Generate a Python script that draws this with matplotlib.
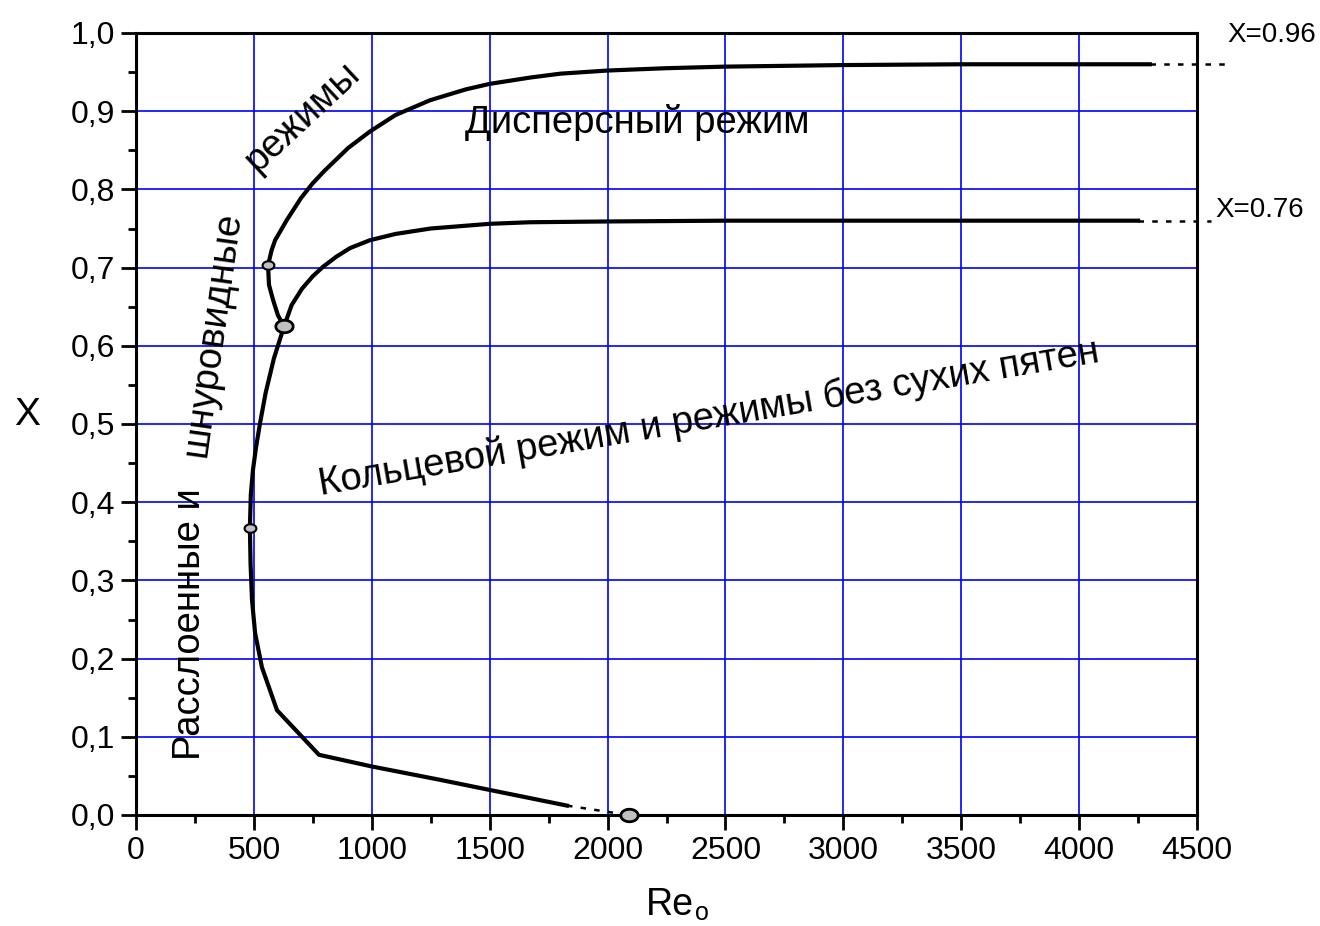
import numpy as np
import matplotlib
matplotlib.use("Agg")
import matplotlib.pyplot as plt
from matplotlib.path import Path
from matplotlib.ticker import MultipleLocator, FuncFormatter

plt.rcParams['font.family'] = ['Liberation Sans', 'DejaVu Sans']

# boundary: stratified -> annular, bottom branch (Re, X)
re_low = [1828, 1501, 1289, 1001, 776, 598, 534, 505, 492, 486, 483, 487, 496, 509, 526, 550, 585, 628]
x_low = [0.012, 0.032, 0.045, 0.062, 0.077, 0.134, 0.189, 0.233, 0.275, 0.32, 0.367, 0.41, 0.441, 0.47, 0.501, 0.54, 0.584, 0.625]

# short piece between the two markers
re_mid = [628, 602, 581, 564, 560]
x_mid = [0.625, 0.639, 0.659, 0.678, 0.703]

# upper boundary, X -> 0.96
re_096 = [560, 575, 590, 640, 700, 750, 800, 900, 992, 1100, 1247, 1400, 1501, 1671, 1800, 2000, 2250, 2500, 3000, 3500, 4300]
x_096 = [0.703, 0.722, 0.735, 0.761, 0.789, 0.808, 0.824, 0.853, 0.874, 0.895, 0.914, 0.928, 0.935, 0.943, 0.948, 0.952, 0.955, 0.957, 0.959, 0.96, 0.96]

# lower boundary, X -> 0.76
re_076 = [628, 660, 704, 750, 793, 850, 908, 992, 1100, 1250, 1501, 1671, 2000, 2500, 3000, 4250]
x_076 = [0.625, 0.652, 0.673, 0.689, 0.701, 0.714, 0.725, 0.735, 0.743, 0.750, 0.756, 0.758, 0.759, 0.760, 0.760, 0.760]

# dashed continuations
re_dash_low = [1828, 2023]
x_dash_low = [0.012, 0.003]
re_dash_096 = [4300, 4640]
x_dash_096 = [0.96, 0.96]
re_dash_076 = [4250, 4560]
x_dash_076 = [0.76, 0.76]

# marked points
re_small = [560, 483]
x_small = [0.703, 0.367]
re_big = [628, 2091]
x_big = [0.625, 0.0]

fig = plt.figure(figsize=(13.2, 9.26), dpi=100)
ax = fig.add_axes([136/1320, 111/926, 1061/1320, 782/926])

ax.set_xlim(0, 4500)
ax.set_ylim(0, 1.0)
ax.xaxis.set_major_locator(MultipleLocator(500))
ax.xaxis.set_minor_locator(MultipleLocator(250))
ax.yaxis.set_major_locator(MultipleLocator(0.1))
ax.yaxis.set_minor_locator(MultipleLocator(0.05))
ax.yaxis.set_major_formatter(FuncFormatter(lambda v, p: f"{v:.1f}".replace('.', ',')))
ax.grid(True, which='major', color='#0000ff', lw=1.2)
ax.set_axisbelow(True)
for s in ax.spines.values():
    s.set_linewidth(2.2)
ax.tick_params(which='both', direction='out', width=2, labelsize=23, top=False, right=False)
ax.tick_params(which='major', length=11, pad=4)
ax.tick_params(which='minor', length=6)

lw = 3
ax.plot(re_low, x_low, color='k', lw=lw, solid_joinstyle='round')
ax.plot(re_mid, x_mid, color='k', lw=lw)
ax.plot(re_096, x_096, color='k', lw=lw, solid_joinstyle='round')
ax.plot(re_076, x_076, color='k', lw=lw, solid_joinstyle='round')
dash = dict(color='k', lw=1.8, ls=(0, (2.2, 3.3)), clip_on=False)
ax.plot(re_dash_low, x_dash_low, **dash)
ax.plot(re_dash_096, x_dash_096, **dash)
ax.plot(re_dash_076, x_dash_076, **dash)

# slightly flattened round markers
t = np.linspace(0, 2 * np.pi, 61)
ell = Path(np.column_stack([np.cos(t), 0.72 * np.sin(t)]))
ax.plot(re_small, x_small, ls='none', marker=ell, ms=8.5, mfc='#c0c0c0', mec='k', mew=1.5, zorder=5)
ax.plot(re_big, x_big, ls='none', marker=ell, ms=12.5, mfc='#c0c0c0', mec='k', mew=2, zorder=5, clip_on=False)

fs = 27.5
ax.text(1395, 0.872, 'Дисперсный режим', fontsize=fs, ha='left', va='baseline')
ax.text(785, 0.409, 'Кольцевой режим и режимы без сухих пятен', fontsize=fs,
        rotation=9.7, rotation_mode='anchor', ha='left', va='baseline')
ax.text(271, 0.07, 'Расслоенные и', fontsize=fs, rotation=90,
        rotation_mode='anchor', ha='left', va='baseline')
ax.text(293, 0.4565, 'шнуровидные', fontsize=fs, rotation=82,
        rotation_mode='anchor', ha='left', va='baseline')
ax.text(708, 0.8926, 'режимы', fontsize=fs, rotation=43,
        rotation_mode='anchor', ha='center', va='center')
ax.text(4627, 0.9885, 'X=0.96', fontsize=20, ha='left', va='baseline', clip_on=False)
ax.text(4576, 0.7647, 'X=0.76', fontsize=20, ha='left', va='baseline', clip_on=False)

ax.set_ylabel('X', fontsize=28, rotation=0, ha='center', va='center')
ax.yaxis.set_label_coords(-0.1027, 0.5115)
fig.text(646/1320, 1 - 915/926, 'Re', fontsize=27, ha='left', va='baseline')
fig.text(695/1320, 1/926, 'o', fontsize=18, ha='left', va='bottom')

fig.savefig('out.png', dpi=100)
